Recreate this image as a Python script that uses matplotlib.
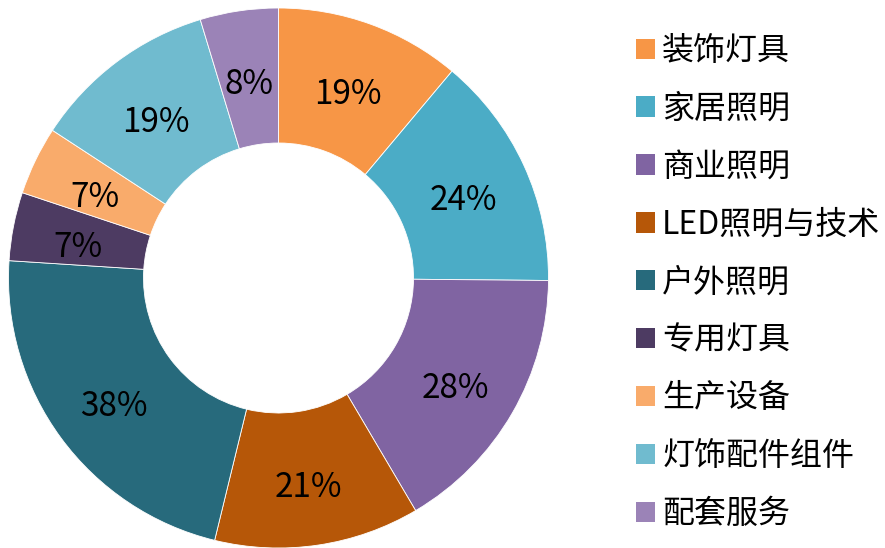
import matplotlib.pyplot as plt
from matplotlib.patches import Patch

plt.rcParams['font.family'] = ['Noto Sans CJK SC', 'DejaVu Sans']

categories = ['装饰灯具', '家居照明', '商业照明', 'LED照明与技术', '户外照明',
              '专用灯具', '生产设备', '灯饰配件组件', '配套服务']
values = [19, 24, 28, 21, 38, 7, 7, 19, 8]
colors = ['#F79646', '#4BACC6', '#8064A2', '#B65708', '#276A7C',
          '#4D3B62', '#F9AB6B', '#70BBCF', '#9B83B7']

fig = plt.figure(figsize=(8.85, 5.48), dpi=100)
# pie axes: 540x540 px square, centred at (278, 278) from top-left
ax = fig.add_axes([8.5 / 885, 0.0, 540 / 885, 540 / 548])

wedges, texts = ax.pie(values, colors=colors, startangle=90, counterclock=False,
                       radius=1.0, labels=[f'{v}%' for v in values],
                       labeldistance=0.755,
                       wedgeprops=dict(width=0.5, edgecolor='white', linewidth=0.6),
                       textprops=dict(fontsize=24, color='black'))
# nudge labels down a little so the digits sit like in the original
for t in texts:
    x, y = t.get_position()
    t.set_position((x, y - 0.03))
    t.set_horizontalalignment('center')
    t.set_verticalalignment('center')
ax.set_xlim(-1, 1)
ax.set_ylim(-1, 1)
ax.set_aspect('equal')
ax.axis('off')

handles = [Patch(facecolor=c, edgecolor='none') for c in colors]
fig.legend(handles, categories, loc='upper left', bbox_to_anchor=(636 / 885, 1 - 35 / 548),
           frameon=False, fontsize=23, handlelength=0.6, handleheight=0.6,
           handletextpad=0.22, labelspacing=0.81, borderpad=0, borderaxespad=0)

fig.savefig('out.png', dpi=100)
